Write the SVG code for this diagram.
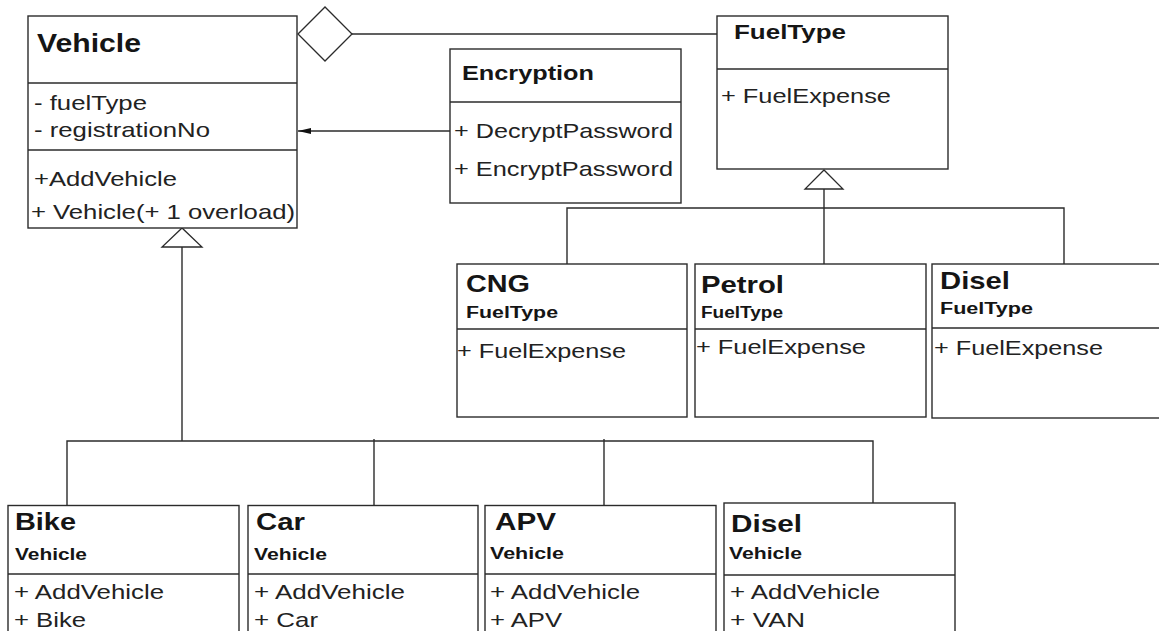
<svg xmlns="http://www.w3.org/2000/svg" width="1159" height="631" viewBox="0 0 1159 631">
  <style>
    .box { fill: #fff; stroke: #2b2b2b; stroke-width: 1.4; }
    .div { stroke: #2b2b2b; stroke-width: 1.4; fill: none; }
    .ln { stroke: #2b2b2b; stroke-width: 1.4; fill: none; }
    .head { fill: #fff; stroke: #2b2b2b; stroke-width: 1.3; }
    text { font-family: "Liberation Sans", Arial, sans-serif; fill: #151515; }
    .h1 { font-size: 26px; font-weight: bold; }
    .h2 { font-size: 21px; font-weight: bold; }
    .h3 { font-size: 24px; font-weight: bold; }
    .sub { font-size: 16px; font-weight: bold; }
    .t { font-size: 21px; fill: #222; }
  </style>
  <defs>
    <!-- small filled head for the usage arrow -->
    <marker id="dep" viewBox="0 0 13 6" refX="13" refY="3" markerWidth="13" markerHeight="6" markerUnits="userSpaceOnUse" orient="auto">
      <path d="M0,0 L13,3 L0,6 Z" fill="#111"/>
    </marker>
  </defs>
  <rect width="1159" height="631" fill="#fff"/>

  <!-- connectors -->
  <g id="connectors">
    <!-- aggregation Vehicle <> FuelType -->
    <polygon class="head" points="298,34 325,7 352,34 325,61"/>
    <line class="ln" x1="352" y1="34" x2="717" y2="34"/>
    <!-- Encryption used by Vehicle -->
    <line class="ln" x1="450" y1="131" x2="298" y2="131" marker-end="url(#dep)"/>
    <!-- FuelType inheritance -->
    <polyline class="ln" points="567,264 567,208 1064,208 1064,264"/>
    <line class="ln" x1="824" y1="189" x2="824" y2="264"/>
    <polygon class="head" points="824,170 805,189 843,189"/>
    <!-- Vehicle inheritance -->
    <line class="ln" x1="182" y1="247" x2="182" y2="441"/>
    <polyline class="ln" points="67,505 67,441 873,441 873,503"/>
    <line class="ln" x1="374" y1="439" x2="374" y2="505"/>
    <line class="ln" x1="604" y1="439" x2="604" y2="505"/>
    <polygon class="head" points="182,228 162,247 202,247"/>
  </g>

  <!-- base classes -->
  <g id="vehicle">
    <rect class="box" x="28" y="16" width="269" height="212"/>
    <line class="div" x1="28" y1="83" x2="297" y2="83"/>
    <line class="div" x1="28" y1="150" x2="297" y2="150"/>
    <text class="h1" x="37" y="52" textLength="104" lengthAdjust="spacingAndGlyphs">Vehicle</text>
    <text class="t" x="34" y="110" textLength="113" lengthAdjust="spacingAndGlyphs">- fuelType</text>
    <text class="t" x="34" y="137" textLength="176" lengthAdjust="spacingAndGlyphs">- registrationNo</text>
    <text class="t" x="34" y="186" textLength="143" lengthAdjust="spacingAndGlyphs">+AddVehicle</text>
    <text class="t" x="31" y="219" textLength="264" lengthAdjust="spacingAndGlyphs">+ Vehicle(+ 1 overload)</text>
  </g>

  <g id="encryption">
    <rect class="box" x="450" y="49" width="231" height="154"/>
    <line class="div" x1="450" y1="102" x2="681" y2="102"/>
    <text class="h2" x="462" y="80" textLength="132" lengthAdjust="spacingAndGlyphs">Encryption</text>
    <text class="t" x="454" y="138" textLength="219" lengthAdjust="spacingAndGlyphs">+ DecryptPassword</text>
    <text class="t" x="454" y="176" textLength="219" lengthAdjust="spacingAndGlyphs">+ EncryptPassword</text>
  </g>

  <g id="fueltype">
    <rect class="box" x="717" y="16" width="231" height="153"/>
    <line class="div" x1="717" y1="69" x2="948" y2="69"/>
    <text class="h2" x="734" y="39" textLength="112" lengthAdjust="spacingAndGlyphs">FuelType</text>
    <text class="t" x="721" y="103" textLength="170" lengthAdjust="spacingAndGlyphs">+ FuelExpense</text>
  </g>

  <!-- fuel type subclasses -->
  <g id="cng">
    <rect class="box" x="457" y="264" width="230" height="153"/>
    <line class="div" x1="457" y1="329" x2="687" y2="329"/>
    <text class="h3" x="466" y="292" textLength="64" lengthAdjust="spacingAndGlyphs">CNG</text>
    <text class="sub" x="466" y="318" textLength="92" lengthAdjust="spacingAndGlyphs">FuelType</text>
    <text class="t" x="457" y="358" textLength="169" lengthAdjust="spacingAndGlyphs">+ FuelExpense</text>
  </g>

  <g id="petrol">
    <rect class="box" x="695" y="264" width="231" height="153"/>
    <line class="div" x1="695" y1="329" x2="926" y2="329"/>
    <text class="h3" x="701" y="293" textLength="83" lengthAdjust="spacingAndGlyphs">Petrol</text>
    <text class="sub" x="701" y="318" textLength="82" lengthAdjust="spacingAndGlyphs">FuelType</text>
    <text class="t" x="696" y="354" textLength="170" lengthAdjust="spacingAndGlyphs">+ FuelExpense</text>
  </g>

  <g id="disel-fuel">
    <rect class="box" x="932" y="264" width="240" height="154"/>
    <line class="div" x1="932" y1="328" x2="1172" y2="328"/>
    <text class="h3" x="940" y="289" textLength="70" lengthAdjust="spacingAndGlyphs">Disel</text>
    <text class="sub" x="940" y="314" textLength="93" lengthAdjust="spacingAndGlyphs">FuelType</text>
    <text class="t" x="934" y="355" textLength="169" lengthAdjust="spacingAndGlyphs">+ FuelExpense</text>
  </g>

  <!-- vehicle subclasses -->
  <g id="bike">
    <rect class="box" x="8" y="505.5" width="231" height="200"/>
    <line class="div" x1="8" y1="574" x2="239" y2="574"/>
    <text class="h3" x="15" y="530" textLength="61" lengthAdjust="spacingAndGlyphs">Bike</text>
    <text class="sub" x="15" y="560" textLength="72" lengthAdjust="spacingAndGlyphs">Vehicle</text>
    <text class="t" x="14" y="599" textLength="150" lengthAdjust="spacingAndGlyphs">+ AddVehicle</text>
    <text class="t" x="14" y="627" textLength="72" lengthAdjust="spacingAndGlyphs">+ Bike</text>
  </g>

  <g id="car">
    <rect class="box" x="248" y="505.5" width="230" height="200"/>
    <line class="div" x1="248" y1="574" x2="478" y2="574"/>
    <text class="h3" x="256" y="530" textLength="49" lengthAdjust="spacingAndGlyphs">Car</text>
    <text class="sub" x="254" y="560" textLength="73" lengthAdjust="spacingAndGlyphs">Vehicle</text>
    <text class="t" x="254" y="599" textLength="151" lengthAdjust="spacingAndGlyphs">+ AddVehicle</text>
    <text class="t" x="254" y="627" textLength="64" lengthAdjust="spacingAndGlyphs">+ Car</text>
  </g>

  <g id="apv">
    <rect class="box" x="485" y="505.5" width="231" height="200"/>
    <line class="div" x1="485" y1="574" x2="716" y2="574"/>
    <text class="h3" x="495" y="530" textLength="61" lengthAdjust="spacingAndGlyphs">APV</text>
    <text class="sub" x="490" y="559" textLength="74" lengthAdjust="spacingAndGlyphs">Vehicle</text>
    <text class="t" x="490" y="599" textLength="150" lengthAdjust="spacingAndGlyphs">+ AddVehicle</text>
    <text class="t" x="490" y="627" textLength="72" lengthAdjust="spacingAndGlyphs">+ APV</text>
  </g>

  <g id="disel-vehicle">
    <rect class="box" x="724" y="503" width="231" height="200"/>
    <line class="div" x1="724" y1="575" x2="955" y2="575"/>
    <text class="h3" x="731" y="532" textLength="71" lengthAdjust="spacingAndGlyphs">Disel</text>
    <text class="sub" x="729" y="559" textLength="73" lengthAdjust="spacingAndGlyphs">Vehicle</text>
    <text class="t" x="730" y="599" textLength="150" lengthAdjust="spacingAndGlyphs">+ AddVehicle</text>
    <text class="t" x="730" y="627" textLength="75" lengthAdjust="spacingAndGlyphs">+ VAN</text>
  </g>
</svg>
